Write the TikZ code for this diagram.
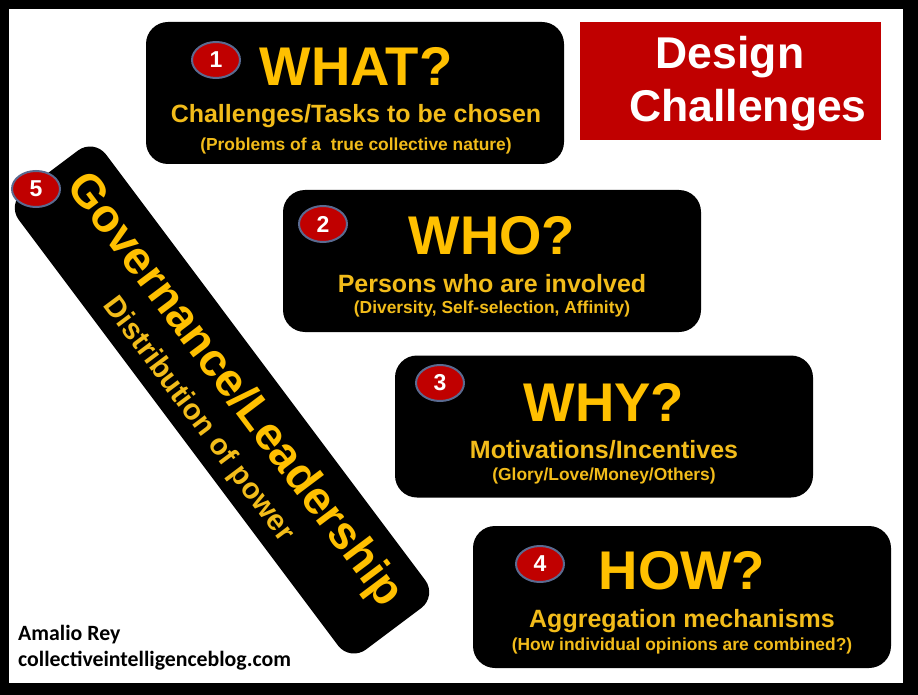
\documentclass[tikz,border=0pt]{standalone}
\usepackage{fontspec}
\setmainfont{Liberation Sans}
\newfontfamily\capfont{Carlito}
\definecolor{gold}{HTML}{FFC000}
\definecolor{gold2}{HTML}{F2BC1A}
\definecolor{redbox}{HTML}{C00000}
\definecolor{ringc}{HTML}{5A6A90}
\tikzset{
 x=1pt,y=-1pt,
 panel/.style={fill=black,rounded corners=22pt,inner sep=0,minimum width=418pt,minimum height=142pt},
 badge/.style={ellipse,fill=redbox,draw=ringc,line width=2pt,minimum width=48pt,minimum height=36pt,inner sep=0,text=white,font=\bfseries\fontsize{23}{23}\selectfont},
 big/.style={text=gold,font=\bfseries\fontsize{54.5}{54.5}\selectfont,inner sep=0},
 mid/.style={text=gold2,font=\bfseries\fontsize{25}{25}\selectfont,inner sep=0},
 small/.style={text=gold2,font=\bfseries\fontsize{17.4}{17.4}\selectfont,inner sep=0},
 credit/.style={anchor=west,inner sep=0,font=\capfont\bfseries\fontsize{21.8}{21.8}\selectfont},
 dctext/.style={text=white,font=\bfseries\fontsize{44.5}{44.5}\selectfont,inner sep=0},
}
\usetikzlibrary{shapes.geometric}
\begin{document}
\begin{tikzpicture}
\useasboundingbox (0,0) rectangle (918,695);
\fill[black] (0,0) rectangle (918,695);
\fill[white] (9,9) rectangle (903,683);
% boxes
\node[panel] (p1) at (355,93) {};
\node[panel] (p2) at (492,261) {};
\node[panel] (p3) at (604,426.5) {};
\node[panel] (p4) at (682,597) {};
\node[fill=redbox,minimum width=301pt,minimum height=118pt,inner sep=0] (dc) at (730,81) {};
\node[dctext] (dct1) at (730,57) {Design};
\node[dctext] (dct2) at (748,110) {Challenges};
\node[panel,rounded corners=20pt,minimum width=572pt,minimum height=109pt,rotate=-53.13] (p5) at (222,400) {};
% texts
\node[big] (w1) at (356,66) {WHAT?};
\node[mid] (m1) at (356,116) {Challenges/Tasks to be chosen};
\node[small] (s1) at (356,146) {(Problems of a\ \ true collective nature)};
\node[badge] (b1) at (216,60) {1};
\node[big] (w2) at (492,236) {WHO?};
\node[mid] (m2) at (492,284) {Persons who are involved};
\node[small] (s2) at (492,309) {(Diversity, Self-selection, Affinity)};
\node[badge] (b2) at (323,224) {2};
\node[big] (w3) at (604,402) {WHY?};
\node[mid] (m3) at (604,450) {Motivations/Incentives};
\node[small] (s3) at (604,476) {(Glory/Love/Money/Others)};
\node[badge] (b3) at (440,383) {3};
\node[big] (w4) at (682,571) {HOW?};
\node[mid] (m4) at (682,621) {Aggregation mechanisms};
\node[small] (s4) at (682,646) {(How individual opinions are combined?)};
\node[badge] (b4) at (540,564) {4};
\node[badge] (b5) at (36,189) {5};
\node[text=gold,rotate=-53.13,font=\bfseries\fontsize{46.4}{46.4}\selectfont,inner sep=0] (g) at (234,391) {Governance/Leadership};
\node[text=gold2,rotate=-53.13,font=\bfseries\fontsize{29.5}{29.5}\selectfont,inner sep=0] (d) at (198,420) {Distribution of power};
\node[credit] (c1) at (18,635) {Amalio Rey};
\node[credit] (c2) at (18,661) {collectiveintelligenceblog.com};
\end{tikzpicture}
\end{document}
